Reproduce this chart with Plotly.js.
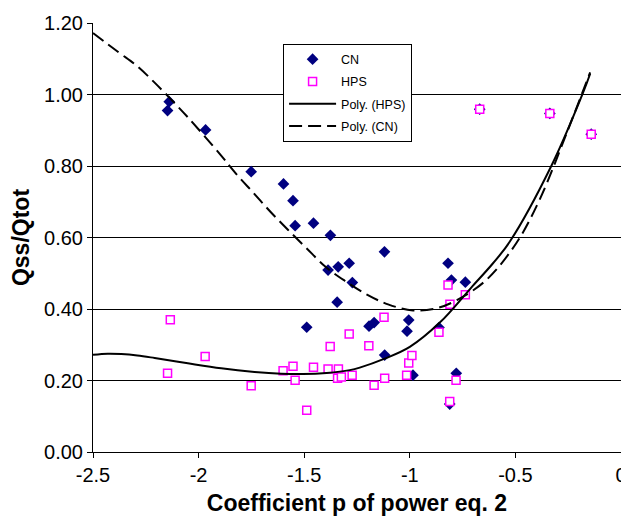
<!DOCTYPE html>
<html>
<head>
<meta charset="utf-8">
<script src="https://cdn.plot.ly/plotly-3.0.1.min.js"></script>
<style>html,body{margin:0;padding:0;background:#fff;}#chart{width:621px;height:517px;}</style>
</head>
<body>
<div id="chart"></div>
<script>
// CN data (navy diamonds)
var cnX = [-2.139, -2.147, -1.967, -1.751, -1.598, -1.553, -1.543, -1.456, -1.376, -1.387, -1.339, -1.287, -1.344, -1.488, -1.120, -1.272, -1.193, -1.169, -1.005, -1.013, -1.119, -0.819, -0.803, -0.737, -0.862, -0.985, -0.780, -0.811, -0.669, -0.337, -0.141];
var cnY = [0.980, 0.955, 0.901, 0.784, 0.750, 0.703, 0.633, 0.640, 0.606, 0.509, 0.518, 0.528, 0.419, 0.349, 0.560, 0.474, 0.352, 0.362, 0.369, 0.338, 0.271, 0.528, 0.481, 0.475, 0.348, 0.215, 0.220, 0.134, 0.959, 0.947, 0.889];

// HPS data (magenta squares, white fill)
var hpsX = [-2.134, -2.147, -1.969, -1.751, -1.600, -1.553, -1.543, -1.488, -1.456, -1.377, -1.387, -1.338, -1.342, -1.324, -1.287, -1.273, -1.194, -1.122, -1.169, -1.119, -1.015, -1.005, -0.990, -0.862, -0.819, -0.810, -0.737, -0.781, -0.811, -0.669, -0.337, -0.141];
var hpsY = [0.370, 0.220, 0.267, 0.185, 0.227, 0.240, 0.201, 0.117, 0.237, 0.295, 0.232, 0.232, 0.206, 0.210, 0.330, 0.215, 0.297, 0.377, 0.187, 0.206, 0.215, 0.249, 0.270, 0.335, 0.467, 0.413, 0.440, 0.201, 0.141, 0.959, 0.947, 0.889];

// Polynomial trendline of HPS (solid)
var polyHpsX = [-2.5, -2.43, -2.366, -2.29, -2.208, -2.051, -1.893, -1.735, -1.609, -1.505, -1.394, -1.284, -1.237, -1.119, -1.0, -0.858, -0.709, -0.606, -0.527, -0.330, -0.181, -0.146];
var polyHpsY = [0.272, 0.275, 0.274, 0.270, 0.263, 0.248, 0.234, 0.224, 0.219, 0.218, 0.221, 0.229, 0.236, 0.261, 0.294, 0.362, 0.460, 0.528, 0.588, 0.800, 1.003, 1.058];

// Polynomial trendline of CN (dashed)
var polyCnX = [-2.5, -2.379, -2.292, -2.213, -2.135, -2.046, -1.896, -1.818, -1.739, -1.660, -1.576, -1.489, -1.399, -1.308, -1.205, -1.103, -0.985, -0.874, -0.777, -0.638, -0.496, -0.386, -0.252, -0.146];
var polyCnY = [1.172, 1.118, 1.080, 1.036, 0.989, 0.933, 0.831, 0.775, 0.724, 0.672, 0.621, 0.570, 0.518, 0.479, 0.441, 0.413, 0.396, 0.402, 0.425, 0.481, 0.584, 0.705, 0.900, 1.062];

var xTickVals = [-2.5, -2, -1.5, -1, -0.5, 0];
var xTickText = ['-2.5', '-2', '-1.5', '-1', '-0.5', '0'];
var yTickVals = [0, 0.2, 0.4, 0.6, 0.8, 1.0, 1.2];
var yTickText = ['0.00', '0.20', '0.40', '0.60', '0.80', '1.00', '1.20'];

var FONT = 'Arial, "Liberation Sans", sans-serif';

var traces = [
  {x: cnX, y: cnY, name: 'CN', type: 'scatter', mode: 'markers', legendgroup: 'a',
   marker: {symbol: 'diamond', size: 9, color: '#000080', line: {width: 0}}},
  {x: hpsX, y: hpsY, name: 'HPS', type: 'scatter', mode: 'markers', legendgroup: 'b',
   marker: {symbol: 'square', size: 8, color: '#FFFFFF', line: {width: 1.5, color: '#FF00FF'}}},
  {x: polyHpsX, y: polyHpsY, name: 'Poly. (HPS)', type: 'scatter', mode: 'lines', legendgroup: 'c',
   line: {color: '#000000', width: 2, shape: 'spline', smoothing: 1}},
  {x: polyCnX, y: polyCnY, name: 'Poly. (CN)', type: 'scatter', mode: 'lines', legendgroup: 'd',
   line: {color: '#000000', width: 2, dash: '13px,6px', shape: 'spline', smoothing: 1}}
];

var layout = {
  width: 621, height: 517,
  margin: {l: 93, r: 0, t: 23, b: 65, pad: 0},
  paper_bgcolor: '#ffffff', plot_bgcolor: '#ffffff',
  font: {family: FONT, color: '#000000', size: 16},
  showlegend: true,
  legend: {x: 0.36, y: 0.952, xanchor: 'left', yanchor: 'top', bgcolor: '#ffffff',
           bordercolor: '#000000', borderwidth: 1, font: {family: FONT, size: 12.5, color: '#000'},
           traceorder: 'grouped', tracegroupgap: 3, itemwidth: 47, entrywidth: 142, entrywidthmode: 'pixels'},
  xaxis: {range: [-2.5, 0], tickvals: xTickVals, ticktext: xTickText, showgrid: false, zeroline: false,
          showline: true, linecolor: '#000000', linewidth: 1, ticks: 'outside', ticklen: 5, tickcolor: '#000',
          ticklabeloverflow: 'allow',
          tickfont: {family: FONT, size: 20, color: '#000'},
          title: {text: 'Coefficient p of power eq. 2', font: {family: FONT, size: 23, color: '#000', weight: 'bold'}, standoff: 9}},
  yaxis: {range: [0, 1.2], tickvals: yTickVals, ticktext: yTickText, showgrid: true, gridcolor: '#000000', gridwidth: 1,
          zeroline: false, showline: true, linecolor: '#000000', linewidth: 1, ticks: 'outside', ticklen: 5, tickcolor: '#000',
          tickfont: {family: FONT, size: 20, color: '#000'},
          title: {text: 'Qss/Qtot', font: {family: FONT, size: 23, color: '#000', weight: 'bold'}, standoff: 8}}
};

Plotly.newPlot('chart', traces, layout, {displayModeBar: false, staticPlot: true});
</script>
</body>
</html>
